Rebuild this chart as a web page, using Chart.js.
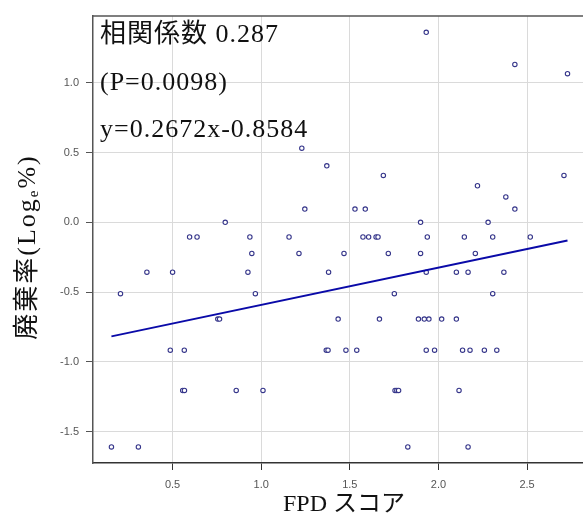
<!DOCTYPE html>
<html><head><meta charset="utf-8">
<script src="https://cdn.jsdelivr.net/npm/chart.js@4.4.1/dist/chart.umd.min.js"></script>
<style>html,body{margin:0;padding:0;background:#fff;overflow:hidden}
#wrap{width:583px;height:528px;overflow:hidden}</style>
</head><body>
<div id="wrap"><canvas id="c" width="588" height="528" style="width:588px;height:528px;display:block"></canvas></div>
<script>
// FPD score (x) and log-transformed discard rate (y) per case
const fpdScores = [
  1.931, 2.431, 2.728, 1.229, 1.370, 1.689, 2.708, 2.220, 2.380, 1.246,
  1.529, 1.587, 2.431, 0.797, 1.899, 2.280, 0.596, 0.638, 0.936, 1.157,
  1.574, 1.606, 1.648, 1.659, 1.937, 2.146, 2.306, 2.518, 0.947, 1.213,
  1.467, 1.717, 1.899, 2.208, 0.355, 0.500, 0.925, 1.380, 1.931, 2.101,
  2.167, 2.369, 0.206, 0.967, 1.751, 2.306, 0.755, 0.765, 1.434, 1.667,
  1.887, 1.920, 1.946, 2.018, 2.101, 0.487, 0.566, 1.367, 1.377, 1.478,
  1.539, 1.931, 1.978, 2.136, 2.178, 2.259, 2.329, 0.557, 0.567, 0.859,
  1.010, 1.755, 1.765, 1.775, 2.116, 0.155, 0.307, 1.827, 2.167
];
const logRates = [
  1.361, 1.131, 1.065, 0.531, 0.405, 0.336, 0.336, 0.262, 0.182, 0.095,
  0.095, 0.095, 0.095, 0.000, 0.000, 0.000, -0.105, -0.105, -0.105, -0.105,
  -0.105, -0.105, -0.105, -0.105, -0.105, -0.105, -0.105, -0.105, -0.223, -0.223,
  -0.223, -0.223, -0.223, -0.223, -0.357, -0.357, -0.357, -0.357, -0.357, -0.357,
  -0.357, -0.357, -0.511, -0.511, -0.511, -0.511, -0.693, -0.693, -0.693, -0.693,
  -0.693, -0.693, -0.693, -0.693, -0.693, -0.916, -0.916, -0.916, -0.916, -0.916,
  -0.916, -0.916, -0.916, -0.916, -0.916, -0.916, -0.916, -1.204, -1.204, -1.204,
  -1.204, -1.204, -1.204, -1.204, -1.204, -1.609, -1.609, -1.609, -1.609
];
const xTickValues = [0.5, 1.0, 1.5, 2.0, 2.5];
const yTickValues = [-1.5, -1.0, -0.5, 0.0, 0.5, 1.0];
const slope = 0.2672;
const intercept = -0.8584;
const fitRange = [0.155, 2.728];
const annotationLines = ['相関係数 0.287', '(P=0.0098)', 'y=0.2672x-0.8584'];
const xTitle = 'FPD スコア';
const yTitleParts = ['廃棄率(Log', 'e', '%)'];

const points = fpdScores.map((x, i) => ({x: x, y: logRates[i]}));
const fitLine = fitRange.map(x => ({x: x, y: slope * x + intercept}));

const SERIF = "'Liberation Serif', 'Noto Sans CJK JP', serif";

const textPlugin = {
  id: 'texts',
  afterDraw(chart) {
    const ctx = chart.ctx;
    const a = chart.chartArea;
    ctx.save();
    // top frame line
    ctx.strokeStyle = '#555';
    ctx.lineWidth = 1.5;
    ctx.beginPath();
    ctx.moveTo(a.left, a.top);
    ctx.lineTo(a.right, a.top);
    ctx.stroke();

    // annotation lines
    ctx.fillStyle = '#111';
    ctx.textAlign = 'left';
    ctx.textBaseline = 'middle';
    ctx.font = '26px ' + SERIF;
    ctx.letterSpacing = '1px';
    const ys = [35, 83, 130];
    annotationLines.forEach((t, i) => ctx.fillText(t, 100, ys[i]));
    ctx.letterSpacing = '0px';

    // x title
    ctx.font = '24px ' + SERIF;
    ctx.textAlign = 'center';
    ctx.fillText(xTitle, 344, 505);

    // y title with subscript e
    ctx.translate(28, 247);
    ctx.rotate(-Math.PI / 2);
    ctx.textAlign = 'left';
    ctx.letterSpacing = '2px';
    ctx.font = '26px ' + SERIF;
    const w0 = ctx.measureText(yTitleParts[0]).width;
    const w2 = ctx.measureText(yTitleParts[2]).width;
    ctx.font = '15px ' + SERIF;
    const w1 = ctx.measureText(yTitleParts[1]).width;
    const total = w0 + w1 + w2;
    let x = -total / 2;
    ctx.font = '26px ' + SERIF;
    ctx.fillText(yTitleParts[0], x, 0);
    x += w0;
    ctx.font = '15px ' + SERIF;
    ctx.fillText(yTitleParts[1], x, 6);
    x += w1;
    ctx.font = '26px ' + SERIF;
    ctx.fillText(yTitleParts[2], x, 0);
    ctx.restore();
  }
};

const tickFont = {family: "'Liberation Sans', Arial, sans-serif", size: 11};

new Chart(document.getElementById('c'), {
  type: 'scatter',
  data: {
    datasets: [
      {
        type: 'line',
        data: fitLine,
        borderColor: '#0a0aa8',
        borderWidth: 2,
        pointRadius: 0,
        fill: false,
        order: 0
      },
      {
        data: points,
        pointRadius: 2.2,
        pointBorderWidth: 1.1,
        borderColor: '#35358a',
        backgroundColor: '#ffffff',
        pointHoverRadius: 2.2,
        order: 1
      }
    ]
  },
  options: {
    responsive: false,
    animation: false,
    devicePixelRatio: 1,
    layout: {padding: {top: 16, right: 0, left: 0, bottom: 0}},
    plugins: {legend: {display: false}, tooltip: {enabled: false}},
    scales: {
      x: {
        type: 'linear',
        min: 0.051,
        max: 2.825,
        afterBuildTicks: s => { s.ticks = xTickValues.map(v => ({value: v})); },
        afterFit: s => { s.height = 65; s.paddingLeft = 0; s.paddingRight = 0; },
        grid: {color: '#dadada', tickColor: '#333', tickLength: 7, lineWidth: 1},
        border: {display: true, color: '#333', width: 1.5},
        ticks: {font: tickFont, color: '#555', padding: 8, maxRotation: 0,
                callback: v => Number(v).toFixed(1)}
      },
      y: {
        type: 'linear',
        min: -1.724,
        max: 1.478,
        afterBuildTicks: s => { s.ticks = yTickValues.map(v => ({value: v})); },
        afterFit: s => { s.width = 93; s.paddingTop = 0; s.paddingBottom = 0; },
        grid: {color: '#dadada', tickColor: '#555', tickLength: 7, lineWidth: 1},
        border: {display: true, color: '#555', width: 1.5},
        ticks: {font: tickFont, color: '#555', padding: 7,
                callback: v => Number(v).toFixed(1)}
      }
    }
  },
  plugins: [textPlugin]
});
</script>
</body></html>
